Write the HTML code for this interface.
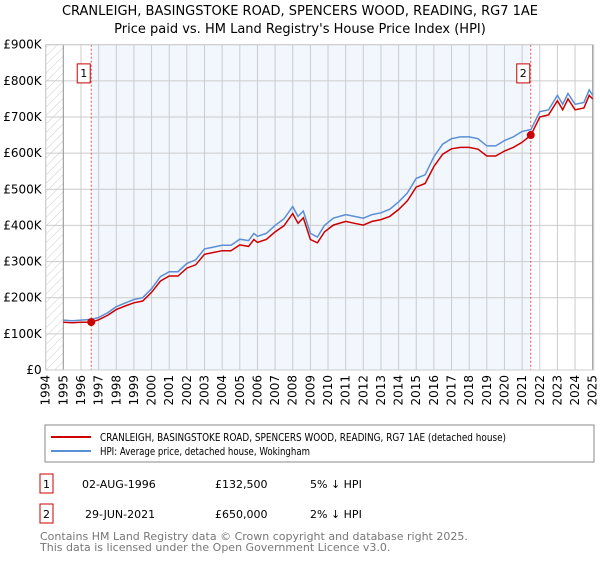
<!DOCTYPE html>
<html><head><meta charset="utf-8"><style>
body{margin:0;background:#fff;font-family:"Liberation Sans","DejaVu Sans",sans-serif;}
svg text{font-family:"DejaVu Sans","Liberation Sans",sans-serif;}
</style></head><body>
<svg id="c" width="600" height="560" xmlns="http://www.w3.org/2000/svg">
<defs><pattern id="hatch" width="6" height="6" patternUnits="userSpaceOnUse" patternTransform="rotate(45)"><line x1="0" y1="0" x2="0" y2="6" stroke="#ccc" stroke-width="1"/></pattern></defs>
<text x="300" y="15" text-anchor="middle" font-size="13" fill="#000">CRANLEIGH, BASINGSTOKE ROAD, SPENCERS WOOD, READING, RG7 1AE</text>
<text x="300" y="33" text-anchor="middle" font-size="13" fill="#000">Price paid vs. HM Land Registry's House Price Index (HPI)</text>
<g id="plot"></g>
<g>
<rect x="45" y="425" width="549" height="37" fill="#fff" stroke="#888"/>
<line x1="51" y1="437" x2="91" y2="437" stroke="#cc0000" stroke-width="2"/>
<text x="100" y="441" font-size="10.5" textLength="406" lengthAdjust="spacingAndGlyphs">CRANLEIGH, BASINGSTOKE ROAD, SPENCERS WOOD, READING, RG7 1AE (detached house)</text>
<line x1="51" y1="451" x2="91" y2="451" stroke="#5b8fd6" stroke-width="2"/>
<text x="100" y="455" font-size="10.5" textLength="210" lengthAdjust="spacingAndGlyphs">HPI: Average price, detached house, Wokingham</text>
</g>
<g font-size="11">
<rect x="40" y="474" width="13" height="19" fill="#fff" stroke="#cc0000"/><text x="46.5" y="488" text-anchor="middle">1</text>
<text x="82" y="488">02-AUG-1996</text><text x="215" y="488">£132,500</text><text x="310" y="488">5% ↓ HPI</text>
<rect x="40" y="504" width="13" height="19" fill="#fff" stroke="#cc0000"/><text x="46.5" y="518" text-anchor="middle">2</text>
<text x="85" y="518">29-JUN-2021</text><text x="215" y="518">£650,000</text><text x="310" y="518">2% ↓ HPI</text>
</g>
<text x="40" y="540" font-size="11" fill="#777">Contains HM Land Registry data © Crown copyright and database right 2025.</text>
<text x="40" y="551" font-size="11" fill="#777">This data is licensed under the Open Government Licence v3.0.</text>
</svg>
<script>
const years=[1995,1995.5,1996,1996.6,1997,1997.5,1998,1998.5,1999,1999.5,2000,2000.5,2001,2001.5,2002,2002.5,2003,2003.5,2004,2004.5,2005,2005.5,2005.8,2006,2006.5,2007,2007.5,2008,2008.3,2008.6,2009,2009.4,2009.8,2010.3,2011,2011.5,2012,2012.5,2013,2013.5,2014,2014.5,2015,2015.5,2016,2016.5,2017,2017.5,2018,2018.5,2019,2019.5,2020,2020.5,2021,2021.5,2022,2022.5,2023,2023.3,2023.6,2024,2024.5,2024.8,2025];
const hpi=[138,136,138,140,145,158,175,185,195,200,225,258,272,272,295,305,335,340,345,345,362,358,378,370,378,400,418,452,425,440,378,368,400,420,430,425,420,430,435,445,465,490,530,540,590,625,640,645,645,640,620,620,635,645,660,665,715,720,760,735,765,735,740,775,760];
const price=[132,131,132,132.5,139,151,167,177,186,191,215,246,260,260,282,291,320,325,330,330,346,342,361,353,361,382,399,433,406,421,361,352,382,401,411,406,401,411,416,425,444,468,506,516,563,597,612,616,616,611,592,592,606,616,630,650,700,706,745,720,750,720,725,760,750];
const sales=[[1996.58,132.5,"1"],[2021.49,650,"2"]];
const yTicks=[0,100,200,300,400,500,600,700,800,900];
const yLabels=["£0","£100K","£200K","£300K","£400K","£500K","£600K","£700K","£800K","£900K"];
const xTicks=[1994,1995,1996,1997,1998,1999,2000,2001,2002,2003,2004,2005,2006,2007,2008,2009,2010,2011,2012,2013,2014,2015,2016,2017,2018,2019,2020,2021,2022,2023,2024,2025];
const X0=45.7,X1=592.7,Y0=370,Y1=44.7;
const sx=t=>X0+(t-1994)/(2025-1994)*(X1-X0);
const sy=v=>Y0-v/900*(Y0-Y1);
const g=document.getElementById('plot');
const NS='http://www.w3.org/2000/svg';
function mk(tag,attrs,parent){const e=document.createElementNS(NS,tag);for(const k in attrs)e.setAttribute(k,attrs[k]);(parent||g).appendChild(e);return e;}
let e;
e=mk('rect',{x:X0,y:Y1,width:X1-X0,height:Y0-Y1,fill:'#fff'});


e=mk('rect',{x:X0,y:Y1,width:sx(1995)-X0,height:Y0-Y1,fill:'url(#hatch)'});


e=mk('rect',{x:sx(sales[0][0]),y:Y1,width:sx(sales[1][0])-sx(sales[0][0]),height:Y0-Y1,fill:'#f2f6fd'});


yTicks.forEach((v,i)=>{
 e=mk('line',{x1:X0,x2:X1,y1:sy(v),y2:sy(v),stroke:'#ccc','stroke-width':1});
 
 
 e=mk('text',{x:X0-4,y:sy(v)+4,'text-anchor':'end','font-size':12});
 e.textContent=yLabels[i];
 
 
});
xTicks.forEach(t=>{
 e=mk('line',{x1:sx(t),x2:sx(t),y1:Y1,y2:Y0,stroke:'#ccc','stroke-width':1});
 
 
 e=mk('text',{x:0,y:0,'text-anchor':'end','font-size':12,transform:`translate(${sx(t)+4},${Y0+5}) rotate(-90)`});
 e.textContent=t;
 
 
});
e=mk('line',{x1:sx(1995),x2:sx(1995),y1:Y1,y2:Y0,stroke:'#999'});


e=mk('line',{x1:X1,x2:X1,y1:Y1,y2:Y0,stroke:'#999'});


sales.forEach(s=>{
 e=mk('line',{x1:sx(s[0]),x2:sx(s[0]),y1:Y1,y2:Y0,stroke:'#e05050','stroke-dasharray':'2,2'});
 
 
 e=mk('rect',{x:sx(s[0])-14,y:sy(822)-9,width:13,height:19,fill:'#fff',stroke:'#cc0000'});
 
 
 e=mk('text',{x:sx(s[0])-7.5,y:sy(822)+4,'text-anchor':'middle','font-size':11});
 e.textContent=s[2];
 
 
});
const path=arr=>arr.map((v,i)=>(i?'L':'M')+sx(years[i]).toFixed(1)+','+sy(v).toFixed(1)).join('');
e=mk('path',{d:path(hpi),fill:'none',stroke:'#5b8fd6','stroke-width':1.5});


e=mk('path',{d:path(price),fill:'none',stroke:'#cc0000','stroke-width':1.5});


sales.forEach(s=>{
 e=mk('circle',{cx:sx(s[0]),cy:sy(s[1]),r:4,fill:'#cc0000'});
 
 
});
e=mk('rect',{x:X0,y:Y1,width:X1-X0+1,height:Y0-Y1,fill:'none',stroke:'#ccc'});


</script>
</body></html>
